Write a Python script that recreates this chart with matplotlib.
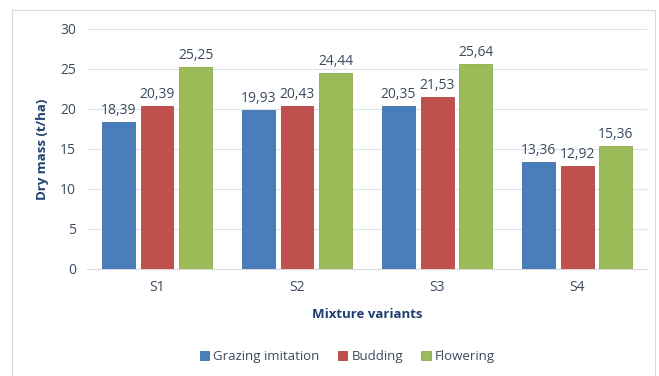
import matplotlib
matplotlib.use('Agg')
from matplotlib import pyplot as plt
from matplotlib.patches import Rectangle
import numpy as np

categories = ['S1', 'S2', 'S3', 'S4']
grazing = [18.39, 19.93, 20.35, 13.36]
budding = [20.39, 20.43, 21.53, 12.92]
flowering = [25.25, 24.44, 25.64, 15.36]
series_names = ['Grazing imitation', 'Budding', 'Flowering']
colors = ['#4a7ebb', '#c0504d', '#9bbb59']
edges = ['#3f6fa8', '#b04542', '#8aab4c']

plt.rcParams['font.family'] = ['Open Sans', 'DejaVu Sans']

fig = plt.figure(figsize=(6.59, 3.76), dpi=100)
ax = fig.add_axes([0.132, 0.2846, 0.85, 0.6384])

# light frame around the chart area
fig.patches.append(Rectangle((12/659, 0.0), 643/659, 1 - 10/376, transform=fig.transFigure,
                             fill=False, edgecolor='#d9d9d9', linewidth=0.8))

x = np.arange(len(categories))
w = 0.235
step = 0.277
for i, vals in enumerate([grazing, budding, flowering]):
    pos = x + (i - 1) * step
    bars = ax.bar(pos, vals, width=w, color=colors[i], edgecolor=edges[i],
                  linewidth=0.6, label=series_names[i], zorder=3)
    for b, v in zip(bars, vals):
        ax.text(b.get_x() + b.get_width() / 2, v + 0.5, ('%.2f' % v).replace('.', ','),
                ha='center', va='bottom', fontsize=10, color='#3a4a5e')

ax.set_xlim(-0.5, 3.5)
ax.set_ylim(0, 30)
ax.set_yticks(range(0, 31, 5))
ax.set_xticks(x)
ax.set_xticklabels(categories)
ax.tick_params(axis='both', length=0, labelsize=10, colors='#3a4a5e', pad=8)
ax.grid(axis='y', color='#dce3ec', linewidth=0.8, zorder=0)
for s in ['top', 'right', 'left']:
    ax.spines[s].set_visible(False)
ax.spines['bottom'].set_color('#d9d9d9')

ax.set_ylabel('Dry mass (t/ha)', fontsize=9.5, fontweight='bold', color='#1f3f6e', labelpad=8)
ax.set_xlabel('Mixture variants', fontsize=9.5, fontweight='bold', color='#1f3f6e', labelpad=9)

ax.legend(loc='upper center', bbox_to_anchor=(0.465, -0.29), ncol=3, frameon=False,
          fontsize=9.5, handlelength=0.7, handleheight=0.7, handletextpad=0.3,
          columnspacing=1.4, labelcolor='#3a4a5e')

fig.savefig('out.png', dpi=100)
